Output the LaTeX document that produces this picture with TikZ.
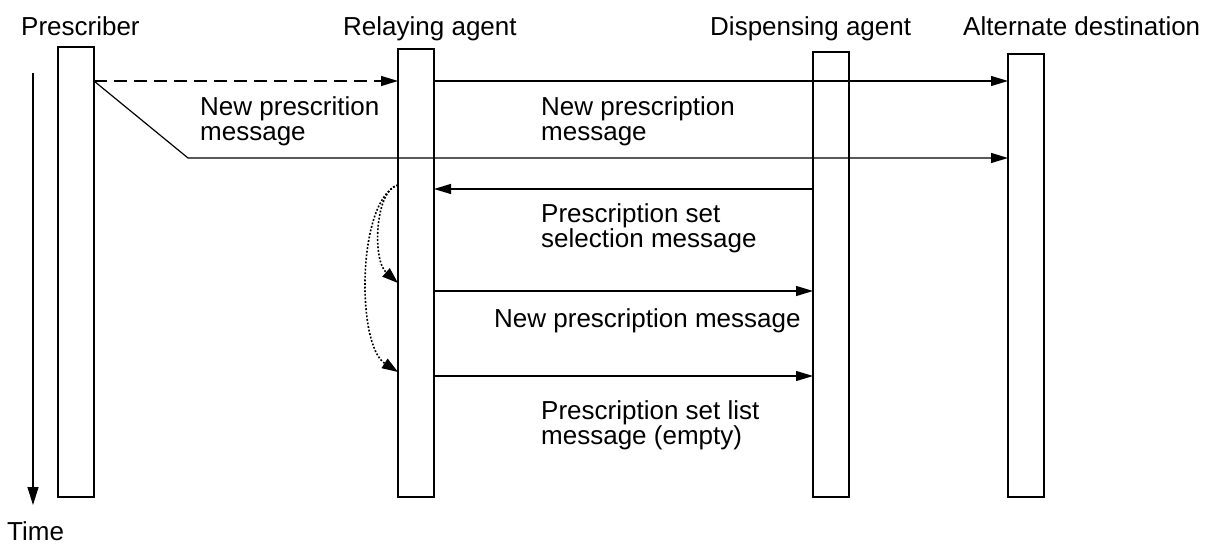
\documentclass[tikz,border=0pt]{standalone}
\usepackage{fontspec}
\setmainfont{Liberation Sans}
\usetikzlibrary{arrows.meta}

\begin{document}
\begin{tikzpicture}[x=1pt, y=-1pt,
    font=\fontsize{26}{25}\selectfont,
    lifeline/.style={draw, line width=1.5pt, minimum width=36pt,
      inner sep=0pt, outer sep=0pt, anchor=north},
    msg/.style={line width=1.2pt, -{Triangle[length=17pt, width=10pt]}},
    hop/.style={line width=1.6pt, dash pattern=on 1.8pt off 1.8pt,
      -{Triangle[length=16pt, width=11pt]}},
    msgtext/.style={inner sep=0pt, anchor=base west, align=left}]
    \useasboundingbox (0,0) rectangle (1210,545);
    % lifelines
    \node[lifeline, minimum height=450pt] (pres) at (76,47) {};
    \node[lifeline, minimum height=448pt] (relay) at (416,49) {};
    \node[lifeline, minimum height=445pt] (disp) at (831,52) {};
    \node[lifeline, minimum height=443pt] (alt) at (1026,54) {};
    \node[msgtext] (prestext) at (21,36) {Prescriber};
    \node[msgtext] (relaytext) at (343,36) {Relaying agent};
    \node[msgtext] (disptext) at (710,36) {Dispensing agent};
    \node[msgtext] (alttext) at (963,36) {Alternate destination};
    % time axis
    \coordinate (t0) at (33,73);
    \coordinate (t1) at (33,505);
    \draw[line width=1.2pt, -{Triangle[length=18pt, width=11pt]}] (t0) -- (t1);
    \node[msgtext] (time) at (7,540) {Time};
    % message rows
    \coordinate (r1) at (0,81);
    \coordinate (r2) at (0,158);
    \coordinate (r3) at (0,189);
    \coordinate (r4) at (0,291);
    \coordinate (r5) at (0,376);
    \coordinate (bend) at (188,158);
    % new prescription
    \draw[msg, dash pattern=on 13pt off 7pt] (pres.east |- r1) -- (relay.west |- r1);
    \draw[msg] (pres.east |- r1) -- (bend) -- (alt.west |- r2);
    \draw[msg] (relay.east |- r1) -- (alt.west |- r1);
    \node[msgtext] (m1) at (200,141) {New prescrition\\message};
    \node[msgtext] (m2) at (541,141) {New prescription\\message};
    % selection
    \draw[msg] (disp.west |- r3) -- (relay.east |- r3);
    \node[msgtext] (m3) at (541,248) {Prescription set\\selection message};
    \draw[msg] (relay.east |- r4) -- (disp.west |- r4);
    \node[msgtext] (m4) at (494,327) {New prescription message};
    \draw[msg] (relay.east |- r5) -- (disp.west |- r5);
    \node[msgtext] (m5) at (541,444) {Prescription set list\\message (empty)};
    % internal hops
    \coordinate (h0) at (0,185);
    \coordinate (h1) at (0,283);
    \coordinate (h2) at (0,372);
    \draw[hop] (relay.west |- h0) .. controls +(-23,5) and +(-26,-23) .. (relay.west |- h1);
    \draw[hop] (relay.west |- h0) .. controls +(-41,15) and +(-42,-27) .. (relay.west |- h2);
\end{tikzpicture}
\end{document}
